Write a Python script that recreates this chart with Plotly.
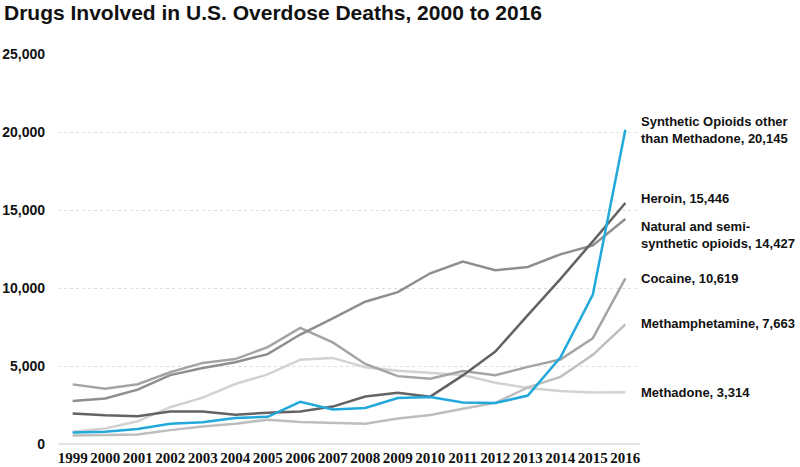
import plotly.graph_objects as go

years = list(range(1999, 2017))
synthetic = [730, 782, 957, 1295, 1400, 1664, 1742, 2707, 2213, 2306, 2946, 3007, 2666, 2628, 3105, 5544, 9580, 20145]
heroin = [1960, 1842, 1779, 2089, 2080, 1878, 2009, 2088, 2399, 3041, 3278, 3036, 4397, 5925, 8257, 10574, 12989, 15446]
natural = [2749, 2917, 3484, 4416, 4867, 5242, 5757, 7017, 8052, 9119, 9735, 10943, 11693, 11140, 11346, 12159, 12727, 14427]
cocaine = [3822, 3544, 3833, 4599, 5199, 5443, 6208, 7448, 6512, 5129, 4350, 4183, 4681, 4404, 4944, 5415, 6784, 10619]
meth = [547, 578, 606, 890, 1128, 1300, 1561, 1415, 1378, 1302, 1632, 1854, 2266, 2635, 3627, 4298, 5716, 7663]
methadone = [784, 988, 1456, 2358, 2972, 3845, 4460, 5406, 5518, 4924, 4696, 4577, 4418, 3932, 3591, 3400, 3301, 3314]

series_names = ["Methadone", "Methamphetamine", "Cocaine", "Natural and semi-synthetic opioids", "Heroin", "Synthetic Opioids other than Methadone"]
series_values = [methadone, meth, cocaine, natural, heroin, synthetic]
series_colors = ["#d2d2d2", "#bebebe", "#a4a4a4", "#8e8e8e", "#636363", "#22a9dc"]
labels = ["Methadone, 3,314", "Methamphetamine, 7,663", "Cocaine, 10,619",
          "Natural and semi-<br>synthetic opioids, 14,427", "Heroin, 15,446",
          "Synthetic Opioids other<br>than Methadone, 20,145"]
label_shift = [0, 1, 0, -16, 5, 0]

fig = go.Figure()
for name, vals, col in zip(series_names, series_values, series_colors):
    fig.add_trace(go.Scatter(x=years, y=vals, mode="lines", name=name,
                             line=dict(color=col, width=2.5), hoverinfo="x+y+name"))

for lab, vals, sh in zip(labels, series_values, label_shift):
    fig.add_annotation(x=1, xref="paper", y=vals[-1], yref="y", text=lab,
                       showarrow=False, xanchor="left", yanchor="middle", align="left",
                       xshift=-1, yshift=sh,
                       font=dict(family="Liberation Sans, Arial", size=13, color="#111111",
                                 weight="bold"))

fig.update_layout(
    width=800, height=467,
    margin=dict(l=58, r=160, t=54, b=23),
    paper_bgcolor="white", plot_bgcolor="white",
    showlegend=False,
    title=dict(text="Drugs Involved in U.S. Overdose Deaths, 2000 to 2016",
               x=0.005, xanchor="left", y=0.973, yanchor="middle", pad=dict(l=0),
               font=dict(family="Liberation Sans, Arial", size=21, color="#111111",
                         weight="bold")),
    xaxis=dict(range=[1998.55, 2016.45], tickmode="array", tickvals=years,
               ticktext=[str(y) for y in years], showgrid=False, zeroline=False,
               showline=False, ticks="", ticklen=0, automargin=False,
               ticklabelstandoff=3,
               tickfont=dict(family="Liberation Sans Narrow, Arial Narrow", size=15,
                             color="#111111", weight="bold")),
    yaxis=dict(range=[0, 25000], tickvals=[0, 5000, 10000, 15000, 20000, 25000],
               tickformat=",", showgrid=True, gridcolor="#dddddd", griddash="dot",
               gridwidth=1, zeroline=True, zerolinecolor="#e4e4e4", zerolinewidth=2,
               showline=False, ticks="", ticklabelstandoff=12, automargin=False,
               tickfont=dict(family="Liberation Sans, Arial", size=14, color="#111111",
                             weight="bold")),
)

fig.write_html("out.html", config={"displayModeBar": False},
               post_script="document.body.style.margin='0';")
